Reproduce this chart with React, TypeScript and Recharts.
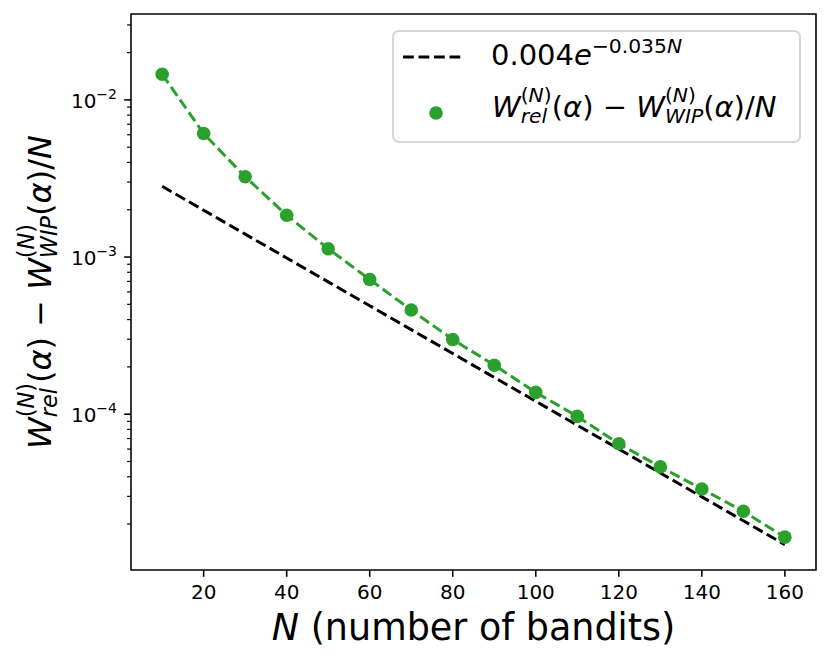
import React from "react";
import { ComposedChart, Line, XAxis, YAxis, ReferenceArea, Legend, Label } from "recharts";

const bandits = [10, 20, 30, 40, 50, 60, 70, 80, 90, 100, 110, 120, 130, 140, 150, 160];
const gapValues = [
  0.01456, 0.00611, 0.00324, 0.001846, 0.00113, 0.00072, 0.00046, 0.000299,
  0.000205, 0.0001377, 0.0000968, 0.0000649, 0.0000462, 0.00003345, 0.0000241, 0.0000165,
];
const fitValues = [
  0.0028188, 0.0019863, 0.0013998, 0.00098639, 0.0006951, 0.00048983, 0.00034517, 0.00024324,
  0.00017141, 0.00012079, 0.000085119, 0.00005998, 0.000042269, 0.000029786, 0.00002099, 0.000014791,
];
const xTicks = [20, 40, 60, 80, 100, 120, 140, 160];
const yMajorTicks = [1e-4, 1e-3, 1e-2];
const yMinorTicks = [
  2e-5, 3e-5, 4e-5, 5e-5, 6e-5, 7e-5, 8e-5, 9e-5,
  2e-4, 3e-4, 4e-4, 5e-4, 6e-4, 7e-4, 8e-4, 9e-4,
  2e-3, 3e-3, 4e-3, 5e-3, 6e-3, 7e-3, 8e-3, 9e-3,
  2e-2, 3e-2,
];

const X_DOMAIN = [2.5, 167.5];
const Y_DOMAIN = [1.02e-5, 0.0352];

const FONT = "DejaVu Sans, sans-serif";
const GREEN = "#2ca02c";
const DASH = "10.8 4.7";
const LINE_W = 3;

const data = bandits.map((n, i) => ({ n, gap: gapValues[i], fit: fitValues[i] }));

function XTick(props: any) {
  const { x, y, payload } = props;
  return (
    <g>
      <line x1={x} x2={x} y1={y} y2={y + 6.8} stroke="#000" strokeWidth={1.56} />
      <text x={x} y={y + 29} textAnchor="middle" fontSize={20} fontFamily={FONT} fill="#000">
        {payload.value}
      </text>
    </g>
  );
}

function YTick(props: any) {
  const { x, y, payload } = props;
  const v = payload.value;
  const lg = Math.log10(v);
  const exp = Math.round(lg);
  const major = Math.abs(lg - exp) < 1e-6;
  return (
    <g>
      <line
        x1={x - (major ? 6.8 : 3.9)}
        x2={x}
        y1={y}
        y2={y}
        stroke="#000"
        strokeWidth={major ? 1.56 : 1.2}
      />
      {major && (
        <text x={x - 14} y={y + 8} textAnchor="end" fontSize={20} fontFamily={FONT} fill="#000">
          10
          <tspan fontSize={14} dy={-9}>
            {"\u2212" + -exp}
          </tspan>
        </text>
      )}
    </g>
  );
}

// W^{(N)}_{sub} as tspans: superscript and subscript stacked after W
function wTerm(key: string, sub: string, fs: number, subEm: number) {
  const small = fs * 0.7;
  const supW = 1.528 * small;
  const subW = subEm * small;
  const up = 0.52 * fs;
  const down = 0.2 * fs;
  return {
    nodes: [
      <tspan key={key + "w"} fontStyle="italic">
        W
      </tspan>,
      <tspan key={key + "p1"} fontSize={small} dy={-up}>
        (
      </tspan>,
      <tspan key={key + "p2"} fontSize={small} fontStyle="italic">
        N
      </tspan>,
      <tspan key={key + "p3"} fontSize={small}>
        )
      </tspan>,
      <tspan key={key + "s"} fontSize={small} fontStyle="italic" dx={-supW} dy={up + down}>
        {sub}
      </tspan>,
    ],
    next: { dx: Math.max(0, supW - subW), dy: -down },
  };
}

function mathText(fs: number) {
  const a = wTerm("a", "rel", fs, 1.304);
  const b = wTerm("b", "WIP", fs, 1.887);
  return [
    ...a.nodes,
    <tspan key="o1" dx={a.next.dx} dy={a.next.dy}>
      (
    </tspan>,
    <tspan key="o2" fontStyle="italic">
      α
    </tspan>,
    <tspan key="o3">{") \u2212 "}</tspan>,
    ...b.nodes,
    <tspan key="c1" dx={b.next.dx} dy={b.next.dy}>
      (
    </tspan>,
    <tspan key="c2" fontStyle="italic">
      α
    </tspan>,
    <tspan key="c3">{")/"}</tspan>,
    <tspan key="c4" fontStyle="italic">
      N
    </tspan>,
  ];
}

function YLabel(props: any) {
  const vb = props.viewBox || { x: 0, y: 14, width: 131, height: 556 };
  const cx = 51;
  const cy = vb.y + vb.height / 2;
  return (
    <text
      x={cx}
      y={cy}
      transform={`rotate(-90 ${cx} ${cy})`}
      textAnchor="middle"
      fontSize={32}
      fontFamily={FONT}
      fill="#000"
    >
      {mathText(32)}
    </text>
  );
}

function XLabel(props: any) {
  const vb = props.viewBox || { x: 131, y: 570, width: 685, height: 93 };
  return (
    <text
      x={vb.x + vb.width / 2}
      y={640}
      textAnchor="middle"
      fontSize={36.5}
      fontFamily={FONT}
      fill="#000"
    >
      <tspan fontStyle="italic">N</tspan>
      <tspan>{" (number of bandits)"}</tspan>
    </text>
  );
}

function LegendBox() {
  const fs = 29;
  return (
    <svg width={409} height={113} style={{ display: "block" }}>
      <rect x={1} y={1} width={407} height={111} rx={6} fill="#fff" fillOpacity={0.8} stroke="#d6d6d6" strokeWidth={2} />
      <line x1={11} x2={70} y1={27} y2={27} stroke="#000" strokeWidth={LINE_W} strokeDasharray={DASH} />
      <text x={99} y={35} fontSize={fs} fontFamily={FONT} fill="#000">
        <tspan>0.004</tspan>
        <tspan fontStyle="italic">e</tspan>
        <tspan fontSize={fs * 0.7} dy={-12}>
          {"\u22120.035"}
        </tspan>
        <tspan fontSize={fs * 0.7} fontStyle="italic">
          N
        </tspan>
      </text>
      <circle cx={44} cy={83} r={6.8} fill={GREEN} />
      <text x={100} y={87} fontSize={fs} fontFamily={FONT} fill="#000">
        {mathText(fs)}
      </text>
    </svg>
  );
}

export default function App() {
  return (
    <div style={{ position: "absolute", left: 0, top: 0, background: "#fff" }}>
      <ComposedChart
        width={831}
        height={663}
        data={data}
        margin={{ top: 14, right: 15, bottom: 0, left: 0 }}
      >
        <XAxis
          dataKey="n"
          type="number"
          domain={X_DOMAIN}
          allowDataOverflow
          ticks={xTicks}
          interval={0}
          tick={(p: any) => <XTick {...p} />}
          tickLine={false}
          axisLine={false}
          tickSize={0}
          tickMargin={0}
          height={93}
        >
          <Label content={(p: any) => <XLabel {...p} />} />
        </XAxis>
        <YAxis
          type="number"
          scale="log"
          domain={Y_DOMAIN}
          allowDataOverflow
          ticks={[...yMinorTicks, ...yMajorTicks]}
          interval={0}
          tick={(p: any) => <YTick {...p} />}
          tickLine={false}
          axisLine={false}
          tickSize={0}
          tickMargin={0}
          width={131}
        >
          <Label content={(p: any) => <YLabel {...p} />} />
        </YAxis>
        <ReferenceArea
          x1={X_DOMAIN[0]}
          x2={X_DOMAIN[1]}
          y1={Y_DOMAIN[0]}
          y2={Y_DOMAIN[1]}
          fill="none"
          stroke="#000"
          strokeWidth={1.56}
          ifOverflow="visible"
        />
        <Line
          dataKey="fit"
          stroke="#000"
          strokeWidth={LINE_W}
          strokeDasharray={DASH}
          dot={false}
          activeDot={false}
          isAnimationActive={false}
        />
        <Line
          dataKey="gap"
          stroke={GREEN}
          strokeWidth={LINE_W}
          strokeDasharray={DASH}
          dot={{ r: 6.8, fill: GREEN, stroke: GREEN, strokeWidth: 0 }}
          activeDot={false}
          isAnimationActive={false}
        />
        <Legend
          layout="vertical"
          verticalAlign="middle"
          align="center"
          wrapperStyle={{ position: "absolute", left: 392, top: 30, width: 409, height: 113 }}
          content={() => <LegendBox />}
        />
      </ComposedChart>
    </div>
  );
}
